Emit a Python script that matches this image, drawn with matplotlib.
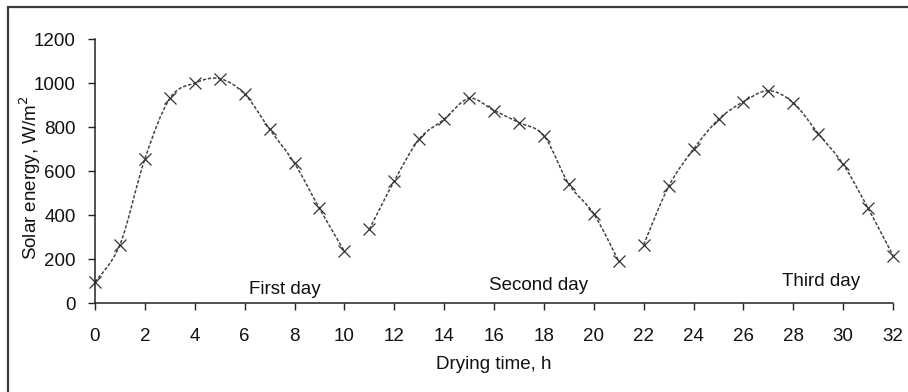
import matplotlib.pyplot as plt
from matplotlib.patches import Rectangle, PathPatch
from matplotlib.path import Path

plt.rcParams['font.family'] = ['Liberation Sans', 'DejaVu Sans']

# hourly solar energy over three drying days
hours_day1 = [0, 1, 2, 3, 4, 5, 6, 7, 8, 9, 10]
energy_day1 = [95, 265, 655, 930, 1000, 1020, 950, 790, 635, 430, 235]
hours_day2 = [11, 12, 13, 14, 15, 16, 17, 18, 19, 20, 21]
energy_day2 = [335, 555, 745, 835, 930, 875, 820, 760, 540, 405, 190]
hours_day3 = [22, 23, 24, 25, 26, 27, 28, 29, 30, 31, 32]
energy_day3 = [265, 530, 700, 835, 915, 965, 910, 770, 630, 430, 215]

day_labels = ['First day', 'Second day', 'Third day']
day_label_x = [7.6, 17.8, 29.1]
day_label_y = [22, 42, 60]


def smooth_path(xs, ys, k=1 / 6):
    # Excel-style smoothed line: cubic Bezier segments through every point
    verts = [(xs[0], ys[0])]
    codes = [Path.MOVETO]
    n = len(xs)
    for i in range(n - 1):
        x0, y0 = (xs[i - 1], ys[i - 1]) if i > 0 else (xs[i], ys[i])
        x1, y1 = xs[i], ys[i]
        x2, y2 = xs[i + 1], ys[i + 1]
        x3, y3 = (xs[i + 2], ys[i + 2]) if i + 2 < n else (x2, y2)
        c1 = (x1 + (x2 - x0) * k, y1 + (y2 - y0) * k)
        c2 = (x2 - (x3 - x1) * k, y2 - (y3 - y1) * k)
        verts += [c1, c2, (x2, y2)]
        codes += [Path.CURVE4] * 3
    return Path(verts, codes)


fig = plt.figure(figsize=(9.08, 3.92), dpi=100)
ax = fig.add_axes([0.1046, 0.227, 0.879, 0.6735])

# outer frame (only top/left edges fall inside the image)
fig.patches.append(Rectangle((8 / 908, -0.1), 1.2, 1.1 - 7 / 392, transform=fig.transFigure,
                             fill=False, edgecolor='#3a3a3a', linewidth=1.6))

for hrs, vals in [(hours_day1, energy_day1), (hours_day2, energy_day2), (hours_day3, energy_day3)]:
    ax.add_patch(PathPatch(smooth_path(hrs, vals), fill=False, edgecolor='#444444',
                           linewidth=1.1, linestyle=(0, (2.2, 1.2)), clip_on=False))
    ax.plot(hrs, vals, linestyle='none', marker='x', markersize=8,
            markeredgewidth=0.9, markeredgecolor='#333333', clip_on=False)

for lbl, lx, ly in zip(day_labels, day_label_x, day_label_y):
    ax.text(lx, ly, lbl, ha='center', va='bottom', fontsize=13.5, color='#111111')

ax.set_xlim(0, 32)
ax.set_ylim(0, 1200)
ax.set_xticks(range(0, 33, 2))
ax.set_yticks(range(0, 1201, 200))
ax.tick_params(axis='both', labelsize=13.5, length=5, width=1, color='#222222', labelcolor='#111111')
ax.tick_params(axis='x', pad=13)
ax.tick_params(axis='y', pad=9)

for side in ['top', 'right']:
    ax.spines[side].set_visible(False)
for side in ['left', 'bottom']:
    ax.spines[side].set_color('#222222')
    ax.spines[side].set_linewidth(1.1)

ax.set_xlabel('Drying time, h', fontsize=13.5, color='#111111', labelpad=8)
ax.set_ylabel('Solar energy, W/m$^2$', fontsize=13.5, color='#111111')
ax.yaxis.label.set_va('center')
ax.yaxis.set_label_coords(-0.081, 0.473)

fig.savefig('out.png', dpi=100)
